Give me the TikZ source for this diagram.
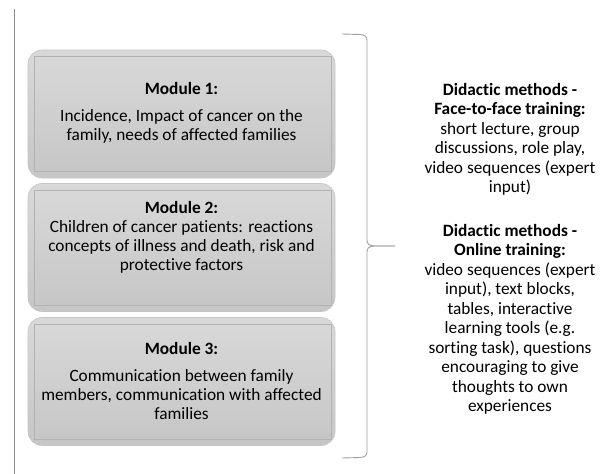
\documentclass[tikz,border=0pt]{standalone}
\usepackage{fontspec}
\setmainfont{Carlito}[Ligatures={NoCommon}]
\begin{document}
\begin{tikzpicture}[x=1pt,y=-1pt,
  modbox/.style={rounded corners=14pt, draw=gray!45, line width=0.6pt,
    top color=gray!30, bottom color=gray!45,
    minimum width=307pt, minimum height=128pt, inner sep=0pt},
  innerframe/.style={draw=gray!60, line width=0.5pt},
  modtext/.style={align=center, font=\fontsize{17.3}{19}\selectfont, inner sep=0pt},
  sidetext/.style={align=center, font=\fontsize{17.3}{19.5}\selectfont, inner sep=0pt},
  bracestyle/.style={draw=gray!75, line width=0.9pt},
  leftline/.style={draw=gray!90, line width=0.9pt}]
\useasboundingbox (0,0) rectangle (608,474);
\fill[white] (0,0) rectangle (608,474);

% left vertical line
\coordinate (lt) at (14,9);
\coordinate (lb) at (14,474);
\draw[leftline] (lt) -- (lb);

% module boxes
\node[modbox] (m1) at (181.5,114) {};
\node[modbox] (m2) at (181.5,247.5) {};
\node[modbox] (m3) at (181.5,381.5) {};
\foreach \m in {m1,m2,m3}{
  \draw[innerframe] ([shift={(7,7)}]\m.north west) rectangle ([shift={(-4,-7)}]\m.south east);
}

% module texts
\node[modtext] (t1) at (181.5,112.5) {\textbf{Module 1:}\\[8pt]Incidence, Impact of cancer on the\\family, needs of affected families};
\node[modtext] (t2) at (181.5,237.5) {\textbf{Module 2:}\\Children of cancer patients: reactions\\concepts of illness and death, risk and\\protective factors};
\node[modtext] (t3) at (181.5,381) {\textbf{Module 3:}\\[8pt]Communication between family\\members, communication with affected\\families};

% brace
\coordinate (bt) at (342,34);
\coordinate (bm) at (395,246);
\coordinate (bb) at (342,458);
\draw[bracestyle] (bt) -- (360,34.5) .. controls (365,35) and (367,36.5) .. (367,40)
  -- (367,240) .. controls (367,244) and (369,245.5) .. (374,246) -- (bm);
\draw[bracestyle] (bm) -- (374,246) .. controls (369,246.5) and (367,248) .. (367,252)
  -- (367,452) .. controls (367,455.5) and (365,457) .. (360,457.5) -- (bb);

% side text
\node[sidetext] (s) at (510,249) {\textbf{Didactic methods -}\\\textbf{Face-to-face training:}\\short lecture, group\\discussions, role play,\\video sequences (expert\\input)\\[24pt]\textbf{Didactic methods -}\\\textbf{Online training:}\\video sequences (expert\\input), text blocks,\\tables, interactive\\learning tools (e.g.\\sorting task), questions\\encouraging to give\\thoughts to own\\experiences};
\end{tikzpicture}
\end{document}
